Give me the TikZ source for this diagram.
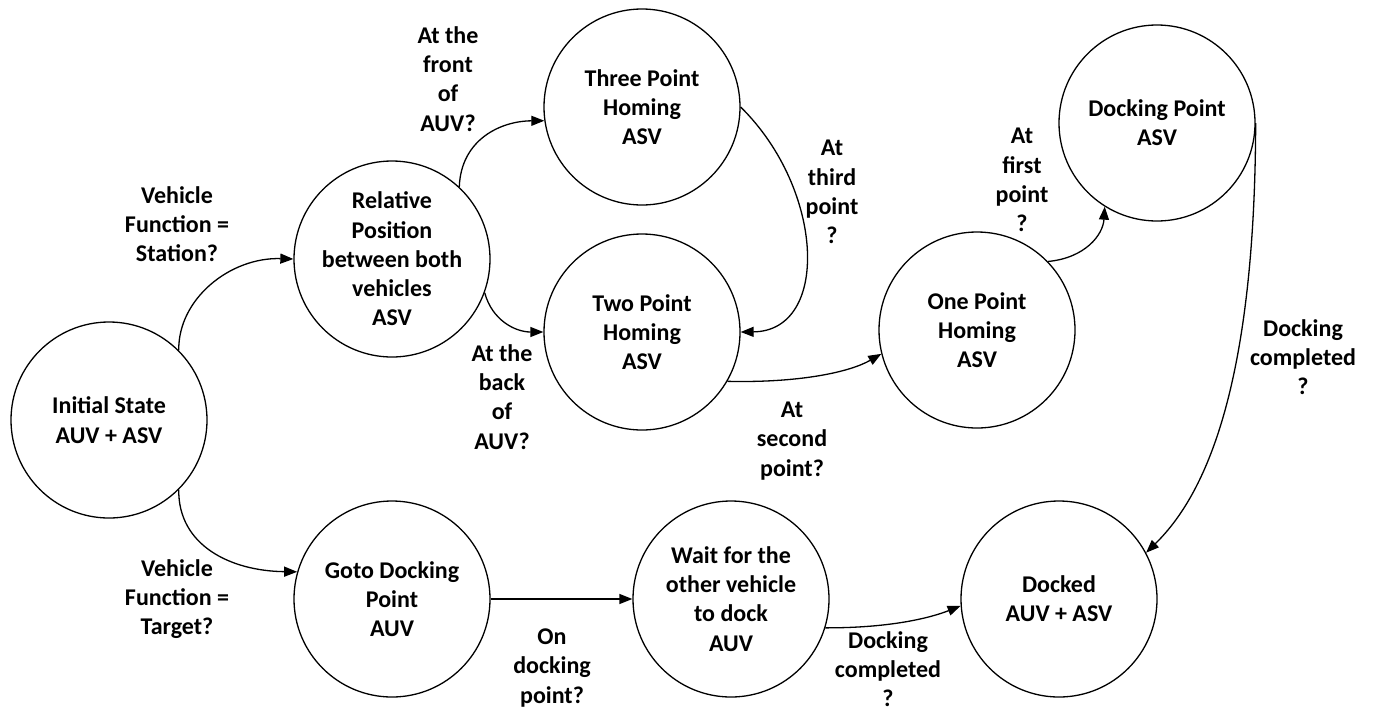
\documentclass[tikz,border=0pt]{standalone}
\usepackage{fontspec}
\setmainfont{Carlito}
\usetikzlibrary{arrows.meta}
\tikzset{
  state/.style={draw, circle, line width=1.3pt, minimum size=196pt, inner sep=0pt,
    align=center, font=\fontsize{24}{29.3}\selectfont\bfseries},
  cond/.style={align=center, inner sep=0pt, font=\fontsize{24}{29.3}\selectfont\bfseries},
  arr/.style={line width=1.3pt, -{Triangle[length=13pt,width=10pt]}}
}
\begin{document}
\begin{tikzpicture}[x=1pt, y=-1pt]
\useasboundingbox[fill=white] (0,0) rectangle (1373,713);

% states
\node[state] (init)  at (109,420)  {Initial State\\AUV + ASV};
\node[state] (rel)   at (392,259)  {Relative\\Position\\between both\\vehicles\\ASV};
\node[state] (three) at (642,107)  {Three Point\\Homing\\ASV};
\node[state] (two)   at (642,332)  {Two Point\\Homing\\ASV};
\node[state] (one)   at (977,330)  {One Point\\Homing\\ASV};
\node[state] (dp)    at (1157,123) {Docking Point\\ASV};
\node[state] (goto)  at (392,599)  {Goto Docking\\Point\\AUV};
\node[state] (wait)  at (731,599)  {Wait for the\\other vehicle\\to dock\\AUV};
\node[state] (docked) at (1059,599) {Docked\\AUV + ASV};

% transition conditions
\node[cond] (cStation) at (177,224)  {Vehicle\\Function =\\Station?};
\node[cond] (cTarget)  at (177,599)  {Vehicle\\Function =\\Target?};
\node[cond] (cFront)   at (448,79)   {At the\\front\\of\\AUV?};
\node[cond] (cBack)    at (502,397)  {At the\\back\\of\\AUV?};
\node[cond] (cThird)   at (832,192)  {At\\third\\point\\?};
\node[cond] (cSecond)  at (792,441)  {At\\second\\point?};
\node[cond] (cFirst)   at (1022,180) {At\\first\\point\\?};
\node[cond] (cDoneA)   at (1303,357) {Docking\\completed\\?};
\node[cond] (cOn)      at (552,668)  {On\\docking\\point?};
\node[cond] (cDoneB)   at (888,669)  {Docking\\completed\\?};

% transitions
\draw[arr] (init.45) .. controls (178,299) and (230,257) .. (rel.west);
\draw[arr] (init.-45) .. controls (178,545) and (230,571) .. (goto.164);
\draw[arr] (rel.47) .. controls (461,140) and (500,121) .. (three.188);
\draw[arr] (rel.-20) .. controls (492,320) and (515,332) .. (two.west);
\draw[arr] (three.east) .. controls (825,190) and (830,331) .. (two.east);
\draw[arr] (two.-30) .. controls (800,383) and (850,372) .. (one.194);
\draw[arr] (one.44) .. controls (1085,258) and (1103,235) .. (dp.238);
\draw[arr] (dp.east) .. controls (1255,400) and (1200,500) .. (docked.28);
\draw[arr] (goto.east) -- (wait.west);
\draw[arr] (wait.-17) .. controls (890,628) and (930,618) .. (docked.184);
\end{tikzpicture}
\end{document}
